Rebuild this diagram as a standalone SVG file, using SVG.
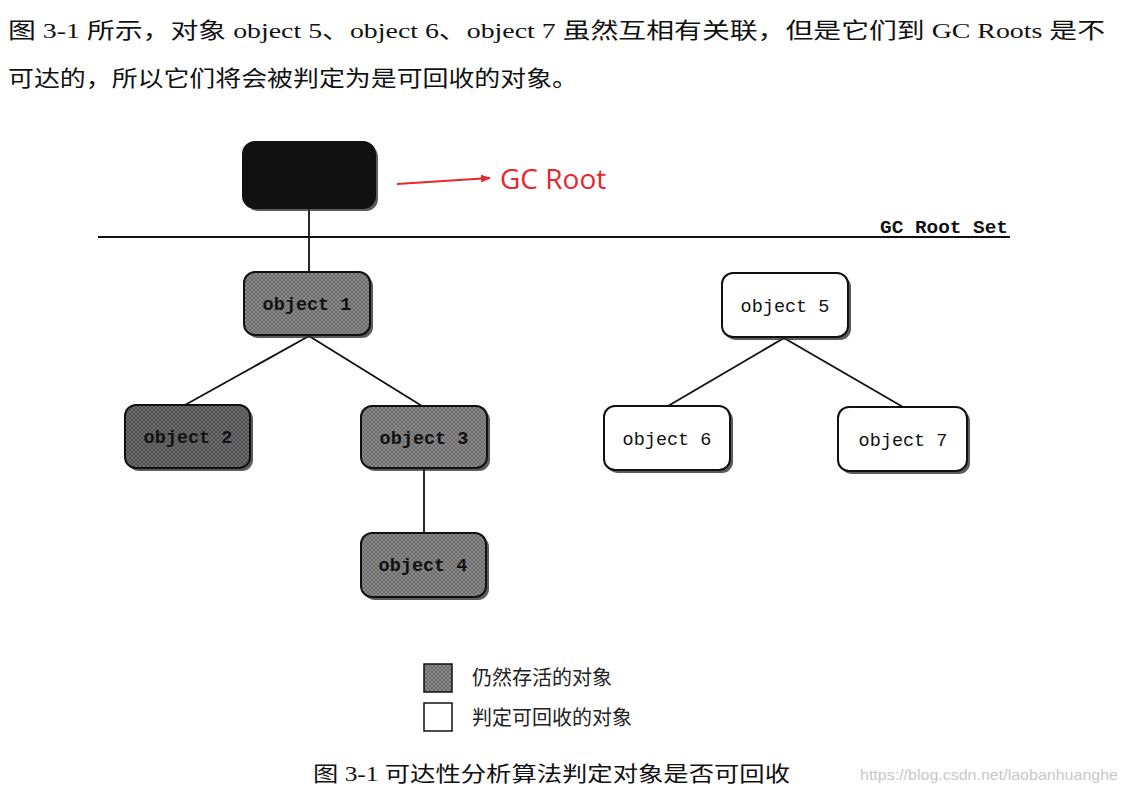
<svg xmlns="http://www.w3.org/2000/svg" width="1127" height="793" viewBox="0 0 1127 793">
<style>
.txt{font-family:"Liberation Serif","Noto Sans CJK SC",serif;fill:#111}
.mono{font-family:"Liberation Mono","DejaVu Sans Mono",monospace;font-size:18.5px;font-weight:bold;fill:#111;text-anchor:middle}
.mono.light{font-weight:normal}
.node{stroke:#111;stroke-width:2}
.shadow{fill:#333;opacity:0.8}
.edge{stroke:#111;stroke-width:1.8;fill:none}
.leg{font-family:"Noto Sans CJK SC",sans-serif;font-size:20px;fill:#222}
</style>
<defs>
<pattern id="hatch" width="4" height="4" patternUnits="userSpaceOnUse">
<rect width="4" height="4" fill="#8c8c8c"/>
<path d="M0 4L4 0M0 0L4 4" stroke="#5a5a5a" stroke-width="0.7"/>
</pattern>
<pattern id="hatch2" width="4" height="4" patternUnits="userSpaceOnUse">
<rect width="4" height="4" fill="#6e6e6e"/>
<path d="M0 4L4 0M0 0L4 4" stroke="#444" stroke-width="0.7"/>
</pattern>
<marker id="ah" markerWidth="10" markerHeight="8" refX="9" refY="4" orient="auto" markerUnits="userSpaceOnUse">
<path d="M0 0L10 4L0 8Z" fill="#e8262b"/>
</marker>
</defs>
<rect width="1127" height="793" fill="#fff"/>

<text class="txt" x="8" y="38" font-size="22" textLength="1097" lengthAdjust="spacingAndGlyphs">图 3-1 所示，对象 object 5、object 6、object 7 虽然互相有关联，但是它们到 GC Roots 是不</text>
<text class="txt" x="8" y="86" font-size="22" textLength="570" lengthAdjust="spacingAndGlyphs">可达的，所以它们将会被判定为是可回收的对象。</text>

<g id="connectors">
<line class="edge" x1="309" y1="208" x2="309" y2="272"/>
<line x1="98" y1="237" x2="1010" y2="237" stroke="#111" stroke-width="2"/>
<line class="edge" x1="309" y1="336" x2="185" y2="405"/>
<line class="edge" x1="309" y1="336" x2="422" y2="406"/>
<line class="edge" x1="424" y1="469" x2="424" y2="533"/>
<line class="edge" x1="784" y1="338" x2="668" y2="406"/>
<line class="edge" x1="784" y1="338" x2="903" y2="407"/>
<line x1="397" y1="184" x2="490" y2="178" stroke="#e8262b" stroke-width="2" marker-end="url(#ah)"/>
</g>

<g id="gc-root">
<rect class="shadow" x="246" y="145" width="132" height="66" rx="12"/>
<rect class="node" x="243" y="142" width="132" height="66" rx="12" fill="#111"/>
</g>
<text x="500" y="189" font-family="'Open Sans','Noto Sans',sans-serif" font-size="28" fill="#e8262b">GC Root</text>
<text x="880" y="233" font-family="'Liberation Mono',monospace" font-size="19" font-weight="bold" fill="#111" textLength="128" lengthAdjust="spacingAndGlyphs">GC Root Set</text>

<g id="object1">
<rect class="shadow" x="247" y="275" width="126" height="63" rx="11"/>
<rect class="node" x="244" y="272" width="126" height="63" rx="11" fill="url(#hatch)"/>
<text class="mono" x="307" y="310">object 1</text>
</g>
<g id="object2">
<rect class="shadow" x="128" y="408" width="125" height="63" rx="11"/>
<rect class="node" x="125" y="405" width="125" height="63" rx="11" fill="url(#hatch2)"/>
<text class="mono" x="188" y="443">object 2</text>
</g>
<g id="object3">
<rect class="shadow" x="364" y="409" width="126" height="62" rx="11"/>
<rect class="node" x="361" y="406" width="126" height="62" rx="11" fill="url(#hatch)"/>
<text class="mono" x="424" y="444">object 3</text>
</g>
<g id="object4">
<rect class="shadow" x="364" y="536" width="125" height="64" rx="11"/>
<rect class="node" x="361" y="533" width="125" height="64" rx="11" fill="url(#hatch)"/>
<text class="mono" x="423" y="571">object 4</text>
</g>
<g id="object5">
<rect class="shadow" x="725" y="276" width="126" height="64" rx="11"/>
<rect class="node" x="722" y="273" width="126" height="64" rx="11" fill="#fff"/>
<text class="mono light" x="785" y="312">object 5</text>
</g>
<g id="object6">
<rect class="shadow" x="607" y="409" width="126" height="64" rx="11"/>
<rect class="node" x="604" y="406" width="126" height="64" rx="11" fill="#fff"/>
<text class="mono light" x="667" y="445">object 6</text>
</g>
<g id="object7">
<rect class="shadow" x="841" y="410" width="129" height="64" rx="11"/>
<rect class="node" x="838" y="407" width="129" height="64" rx="11" fill="#fff"/>
<text class="mono light" x="903" y="446">object 7</text>
</g>

<g id="legend">
<rect x="424" y="664" width="28" height="28" fill="url(#hatch)" stroke="#111" stroke-width="1.5"/>
<text class="leg" x="472" y="685">仍然存活的对象</text>
<rect x="424" y="703" width="28" height="28" fill="#fff" stroke="#111" stroke-width="1.5"/>
<text class="leg" x="472" y="725">判定可回收的对象</text>
</g>

<text class="txt" x="313" y="781" font-size="21" textLength="477" lengthAdjust="spacingAndGlyphs">图 3-1   可达性分析算法判定对象是否可回收</text>
<text x="860" y="780" font-family="'Liberation Sans',sans-serif" font-size="15" fill="#c8c8c8" textLength="258" lengthAdjust="spacingAndGlyphs">https://blog.csdn.net/laobanhuanghe</text>
</svg>
